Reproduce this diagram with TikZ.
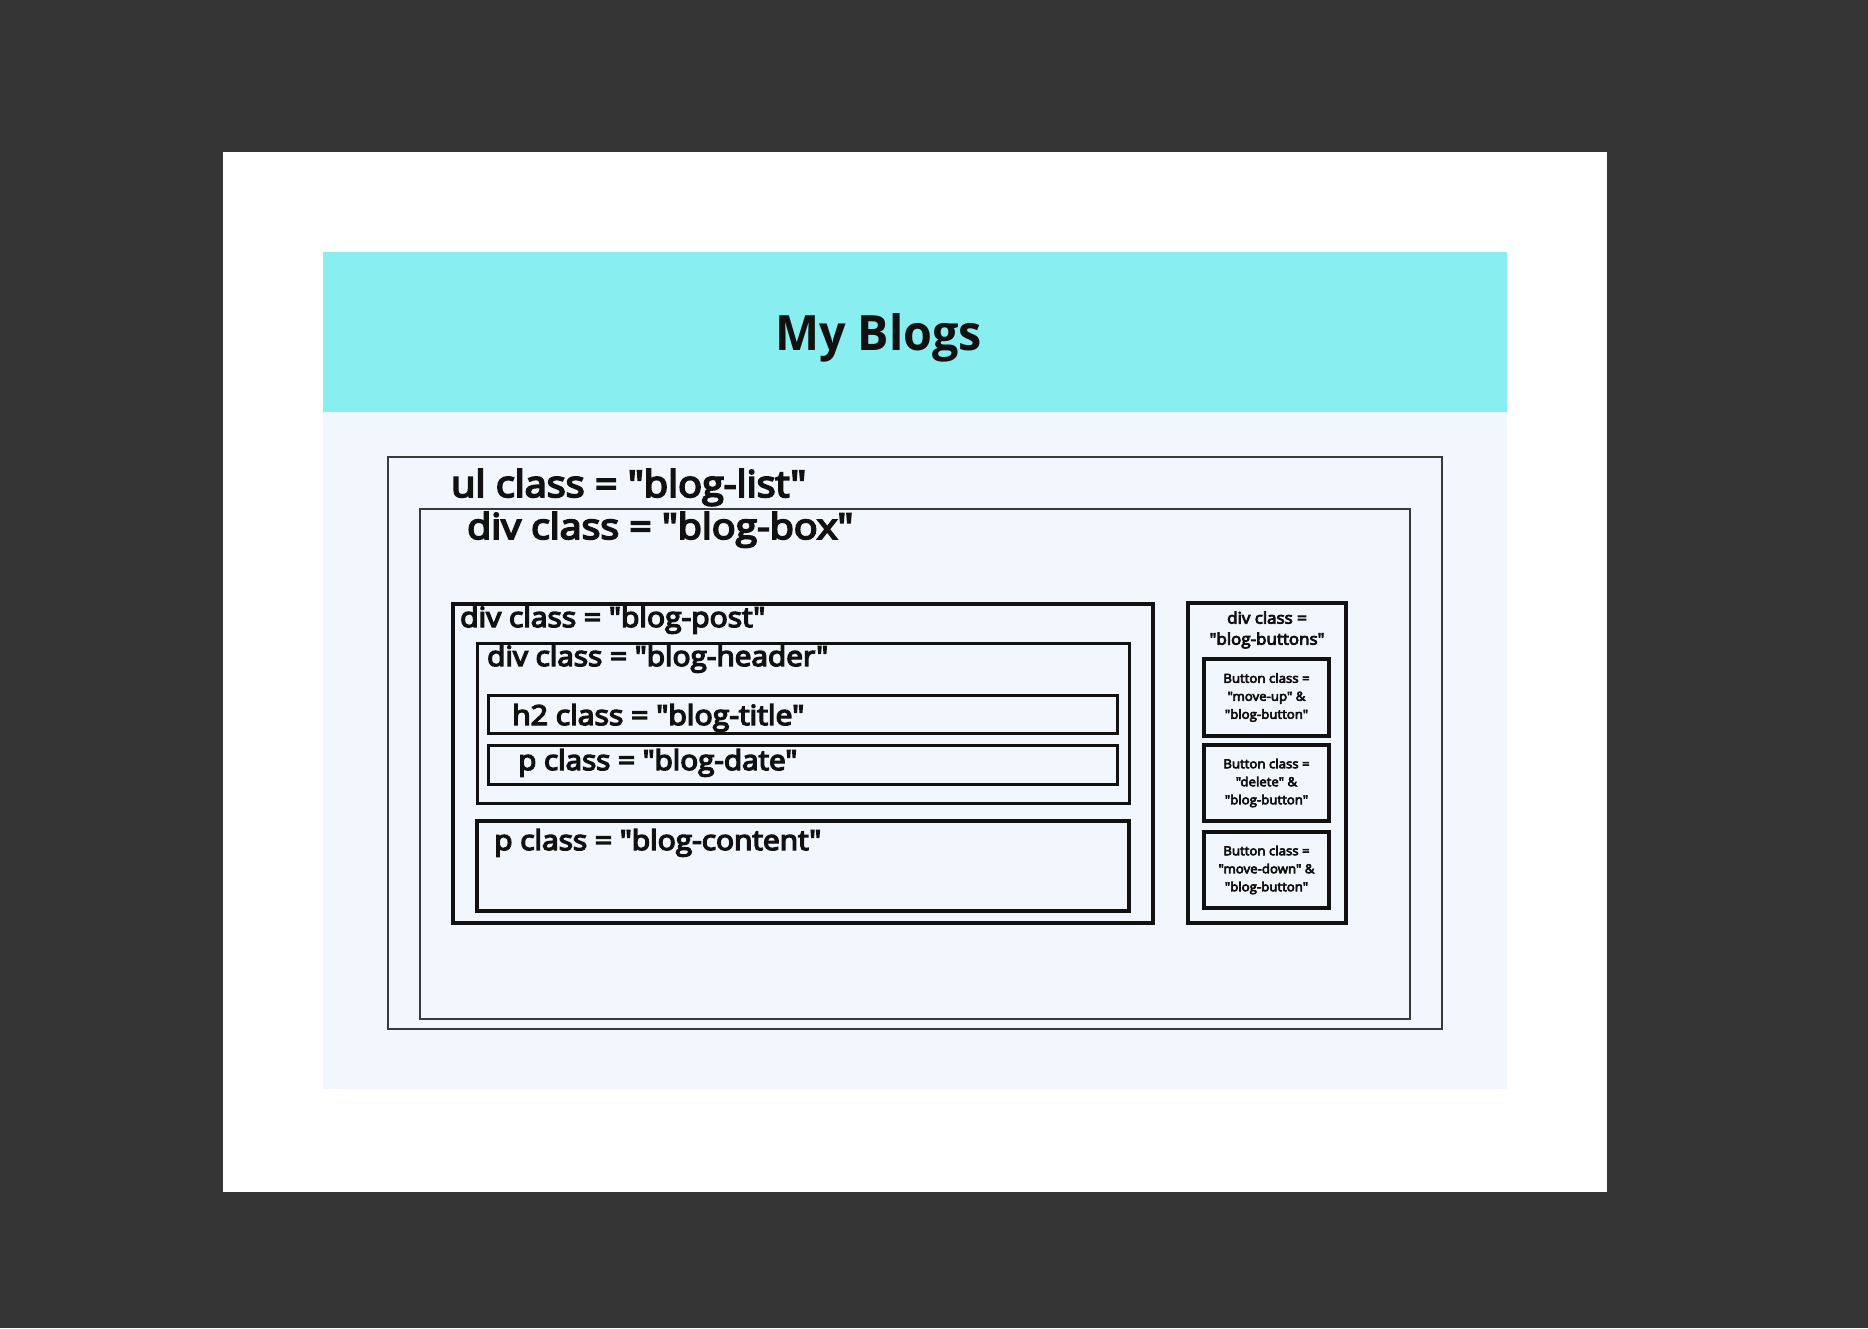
\documentclass[tikz,border=0pt]{standalone}
\usepackage{fontspec}
\usepackage{graphicx}
\setmainfont{Open Sans}
\newfontfamily\labelfont{Open Sans}[FakeBold=5]
\newfontfamily\smalllabelfont{Open Sans}[FakeBold=5]
\definecolor{backdrop}{RGB}{53,53,53}
\definecolor{headercyan}{RGB}{137,238,240}
\definecolor{panelblue}{RGB}{242,247,254}
\definecolor{thinline}{RGB}{58,58,58}
\definecolor{ink}{RGB}{17,17,17}
% text box forced to a given width and height (in pt)
\newcommand\fitlabel[3]{\resizebox{#1pt}{#2pt}{#3}}
\newcommand\wideline[1]{\scalebox{1.06}[1]{#1}}

\begin{document}
\begin{tikzpicture}[x=1pt,y=-1pt,
  framebox/.style={draw=ink, line width=3.2pt, inner sep=0pt, outer sep=0pt, anchor=north west},
  thinframe/.style={draw=thinline, line width=2.4pt, inner sep=0pt, outer sep=0pt, anchor=north west},
  buttonbox/.style={draw=ink, line width=4pt, inner sep=0pt, outer sep=0pt, anchor=north west,
    minimum width=125pt},
  lbl/.style={anchor=base west, inner sep=0pt, text=ink, font=\labelfont},
  btnlbl/.style={anchor=center, inner sep=0pt, text=ink, align=center,
    font=\smalllabelfont\fontsize{12.5}{18}\selectfont}
]
\useasboundingbox (0,0) rectangle (1868,1328);

% page and panels
\fill[backdrop] (0,0) rectangle (1868,1328);
\fill[white] (223,152) rectangle (1607,1192);
\fill[headercyan] (323,252) rectangle (1507,412);
\fill[panelblue] (323,412) rectangle (1507,1089);

\node[anchor=base west, inner sep=0pt, text=ink, font=\bfseries] (heading) at (775,350)
  {\fitlabel{207}{37}{My Blogs}};

% list and box containers
\node[thinframe, minimum width=1054pt, minimum height=572pt] (list) at (388,457) {};
\node[thinframe, minimum width=990pt, minimum height=510pt] (blogbox) at (420,509) {};
\node[lbl] (listlbl) at (451,497) {\fitlabel{355}{28}{ul class = "blog-list"}};
\node[lbl] (boxlbl) at (467,539) {\fitlabel{386}{27}{div class = "blog-box"}};

% post
\node[framebox, line width=3.5pt, minimum width=700pt, minimum height=319pt] (post) at (453,604) {};
\node[lbl] (postlbl) at (460,627) {\fitlabel{305}{21}{div class = "blog-post"}};

\node[framebox, line width=3pt, minimum width=652pt, minimum height=160pt] (header) at (477,643) {};
\node[lbl] (headerlbl) at (487,666) {\fitlabel{341}{21}{div class = "blog-header"}};

\node[framebox, line width=3pt, minimum width=629pt, minimum height=38pt] (titlebox) at (488,695) {};
\node[lbl] (titlelbl) at (512,725) {\fitlabel{292}{21}{h2 class = "blog-title"}};

\node[framebox, line width=3pt, minimum width=629pt, minimum height=39pt] (datebox) at (488,745) {};
\node[lbl] (datelbl) at (518,770) {\fitlabel{279}{21}{p class = "blog-date"}};

\node[framebox, line width=3.5pt, minimum width=652pt, minimum height=90pt] (content) at (477,821) {};
\node[lbl] (contentlbl) at (494,850) {\fitlabel{327}{21}{p class = "blog-content"}};

% buttons column
\node[framebox, line width=3.5pt, minimum width=158pt, minimum height=320pt] (buttons) at (1188,603) {};
\node[btnlbl, font=\smalllabelfont\fontsize{16}{21}\selectfont] (buttonslbl) at (1267,630)
  {\wideline{div class =}\\\wideline{"blog-buttons"}};

\node[buttonbox, minimum height=77pt] (up) at (1204,659) {};
\node[buttonbox, minimum height=76pt] (delete) at (1204,745) {};
\node[buttonbox, minimum height=76pt] (down) at (1204,832) {};

\node[btnlbl] (uplbl) at (up.center)
  {\wideline{Button class =}\\\wideline{"move-up" \&}\\\wideline{"blog-button"}};
\node[btnlbl] (deletelbl) at (delete.center)
  {\wideline{Button class =}\\\wideline{"delete" \&}\\\wideline{"blog-button"}};
\node[btnlbl] (downlbl) at (down.center)
  {\wideline{Button class =}\\\wideline{"move-down" \&}\\\wideline{"blog-button"}};
\end{tikzpicture}
\end{document}
